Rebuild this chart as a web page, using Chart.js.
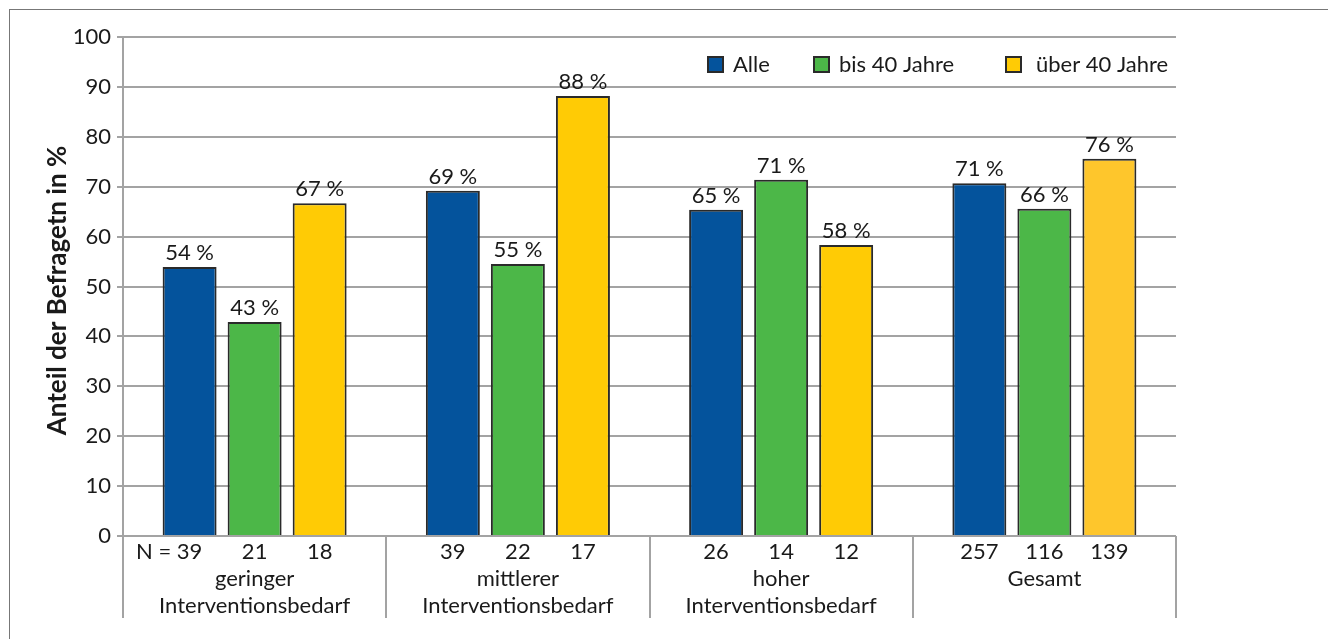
<!DOCTYPE html>
<html>
<head>
<meta charset="utf-8">
<script src="https://cdn.jsdelivr.net/npm/chart.js@4"></script>
<style>
html,body{margin:0;padding:0;background:#fff;}
#wrap{width:1328px;height:639px;position:relative;}
</style>
</head>
<body>
<div id="wrap"><canvas id="c" width="1328" height="639"></canvas></div>
<script>
const categories = [['geringer','Interventionsbedarf'],['mittlerer','Interventionsbedarf'],['hoher','Interventionsbedarf'],['Gesamt']];
const seriesNames = ['Alle','bis 40 Jahre','über 40 Jahre'];
const alle = [53.9, 69.2, 65.4, 70.7];
const bis40 = [42.9, 54.5, 71.4, 65.6];
const ueber40 = [66.7, 88.2, 58.3, 75.6];
const nAlle = [39, 39, 26, 257];
const nBis40 = [21, 22, 14, 116];
const nUeber40 = [18, 17, 12, 139];
const yTicks = [0,10,20,30,40,50,60,70,80,90,100];
const yTitle = 'Anteil der Befragetn in %';

const FONT = 'Lato, "Open Sans", sans-serif';
const TXT = '#1a1a1a';
const GRID = '#a3a3a3';
const nSeries = [nAlle, nBis40, nUeber40];

const overlay = {
  id: 'overlay',
  afterDatasetsDraw(chart) {
    const ctx = chart.ctx;
    const ca = chart.chartArea;
    const xs = chart.scales.x;
    ctx.save();
    // value labels
    ctx.font = '22px ' + FONT;
    ctx.fillStyle = TXT;
    ctx.textAlign = 'center';
    ctx.textBaseline = 'bottom';
    chart.data.datasets.forEach((ds, di) => {
      chart.getDatasetMeta(di).data.forEach((bar, i) => {
        ctx.fillText(Math.round(ds.data[i]) + ' %', bar.x, bar.y - 3);
      });
    });
    // N labels
    ctx.textBaseline = 'middle';
    nSeries.forEach((arr, di) => {
      chart.getDatasetMeta(di).data.forEach((bar, i) => {
        ctx.textAlign = 'center';
        ctx.fillText(String(arr[i]), bar.x, ca.bottom + 16);
        if (di === 0 && i === 0) {
          const w = ctx.measureText(String(arr[i])).width;
          ctx.textAlign = 'right';
          ctx.fillText('N = ', bar.x - w / 2, ca.bottom + 16);
        }
      });
    });
    // category labels
    ctx.textAlign = 'center';
    categories.forEach((lines, i) => {
      const cx = xs.getPixelForValue(i);
      lines.forEach((t, li) => ctx.fillText(t, cx, ca.bottom + 43 + li * 27));
    });
    // separators
    ctx.strokeStyle = GRID;
    ctx.lineWidth = 2;
    const half = (xs.getPixelForValue(1) - xs.getPixelForValue(0)) / 2;
    for (let i = 0; i <= categories.length; i++) {
      const x = i < categories.length ? xs.getPixelForValue(i) - half : xs.getPixelForValue(i - 1) + half;
      ctx.beginPath();
      ctx.moveTo(Math.round(x), ca.bottom);
      ctx.lineTo(Math.round(x), ca.bottom + 82);
      ctx.stroke();
    }
    // legend
    const lx = [ca.right - 469, ca.right - 363, ca.right - 171];
    const tx = [26, 26, 31];
    const ly = ca.top + 28;
    chart.data.datasets.forEach((ds, di) => {
      const c = Array.isArray(ds.backgroundColor) ? ds.backgroundColor[0] : ds.backgroundColor;
      ctx.fillStyle = c;
      ctx.fillRect(lx[di], ly - 9, 17, 17);
      ctx.strokeStyle = '#2a2a2a';
      ctx.lineWidth = 2;
      ctx.strokeRect(lx[di] + 1, ly - 8, 15, 15);
      ctx.fillStyle = TXT;
      ctx.textAlign = 'left';
      ctx.textBaseline = 'middle';
      ctx.fillText(ds.label, lx[di] + tx[di], ly);
    });
    // y title
    ctx.save();
    ctx.translate(58, (ca.top + ca.bottom) / 2 + 4);
    ctx.rotate(-Math.PI / 2);
    ctx.font = 'bold 26px ' + FONT;
    ctx.textAlign = 'center';
    ctx.textBaseline = 'middle';
    ctx.fillText(yTitle, 0, 0);
    ctx.restore();
    // frame
    ctx.strokeStyle = '#777';
    ctx.lineWidth = 1;
    ctx.strokeRect(9.5, 9.5, 1400, 700);
    ctx.restore();
  }
};

new Chart(document.getElementById('c'), {
  type: 'bar',
  data: {
    labels: categories.map(c => c.join(' ')),
    datasets: [
      { label: seriesNames[0], data: alle, backgroundColor: '#04539c' },
      { label: seriesNames[1], data: bis40, backgroundColor: '#4cb748' },
      { label: seriesNames[2], data: ueber40, backgroundColor: ['#ffcb05','#ffcb05','#ffcb05','#fec62c'] }
    ]
  },
  options: {
    responsive: false,
    animation: false,
    devicePixelRatio: 1,
    layout: { padding: { left: 0, right: 152, top: 37, bottom: 103 } },
    datasets: { bar: { borderColor: '#2a2a2a', borderWidth: 2, categoryPercentage: 0.741, barPercentage: 0.83 } },
    plugins: { legend: { display: false }, tooltip: { enabled: false } },
    scales: {
      x: { display: false },
      y: {
        min: 0, max: 100,
        afterFit(s) { s.width = 123; },
        afterBuildTicks(s) { s.ticks = yTicks.map(v => ({ value: v })); },
        ticks: { font: { family: FONT, size: 22 }, color: TXT, padding: 6 },
        grid: { color: GRID, lineWidth: 2, tickLength: 6, drawTicks: true },
        border: { display: true, color: GRID, width: 2 }
      }
    }
  },
  plugins: [overlay]
});
</script>
</body>
</html>
